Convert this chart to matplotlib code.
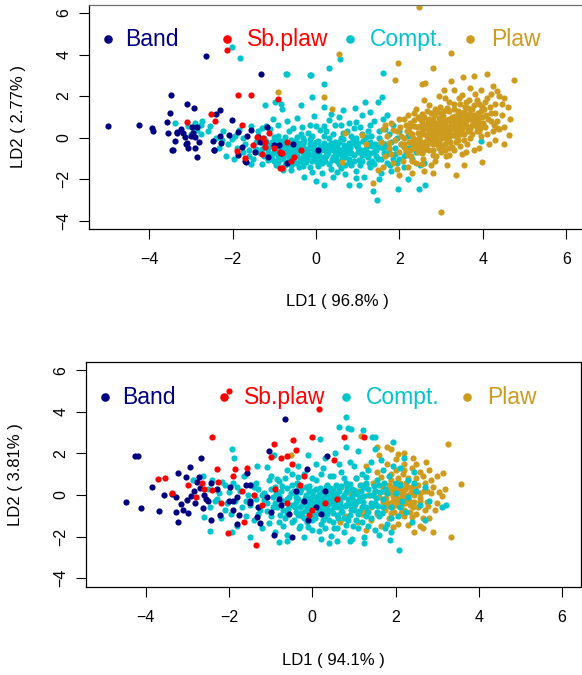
import matplotlib
matplotlib.use("Agg")
import matplotlib.pyplot as plt

plt.rcParams['font.family'] = ['Liberation Sans', 'DejaVu Sans']

labels = ["Band", "Sb.plaw", "Compt.", "Plaw"]
colors = ["#000080", "#FF0000", "#00C5CD", "#CD9B1D"]
ticks = [-4, -2, 0, 2, 4, 6]

# ---- panel 1 : LD1 (96.8%) vs LD2 (2.77%) ----
top_xlabel = "LD1 ( 96.8% )"
top_ylabel = "LD2 ( 2.77% )"

band_top = [(-5.0, 0.58), (-4.25, 0.61), (-3.94, 0.45), (-3.9, 0.31), (-3.47, 2.05),
            (-3.51, 1.17), (-3.58, 0.77), (-3.55, 0.24), (-3.45, -0.59), (-3.37, -0.14),
            (-3.33, 0.25), (-3.24, 0.42), (-3.18, 0.21), (-3.11, -0.3), (-3.08, -0.51),
            (-2.98, 0.5), (-2.94, 0.21), (-2.89, 0.02), (-2.9, -0.51), (-2.86, -0.94),
            (-3.1, 1.6), (-2.92, 1.43), (-2.41, 1.15), (-2.3, 1.35), (-2.65, 3.94),
            (-1.33, 3.05), (-2.46, -0.14), (-2.45, -0.58), (-2.02, 0.85), (-2.08, 0.13),
            (-1.88, 0.27), (-1.86, -0.83), (-1.67, -1.18), (-1.65, 0.08), (-1.4, 0.03),
            (-1.46, -0.67), (-1.18, 0.53), (-1.14, -0.91), (-2.28, -0.27), (-1.78, -0.43),
            (-2.86, 0.53), (-3.14, 0.05), (-3.44, -0.6), (-3.34, 0.26), (-3.1, -0.27),
            (-2.3, 0.07), (-2.44, -0.59), (-1.0, -0.35), (-0.85, -0.75), (-0.55, -0.3),
            (0.04, -0.58), (-0.88, -0.35), (-1.35, -0.2), (-1.55, 0.35), (-0.7, -1.2),
            (-1.7, -1.1), (-3.0, 0.1), (-2.8, -0.2)]

sbplaw_top = [(-2.14, 4.22), (-1.86, 2.05), (-1.55, 2.04), (-0.91, 1.88), (-2.53, 1.15),
              (-2.42, 0.8), (-3.09, 0.77), (-1.78, 0.61), (-1.12, 0.24), (-1.89, -0.64),
              (-1.7, -0.99), (-1.22, -0.22), (-1.26, -0.03), (-0.86, -0.7), (-0.52, -0.91),
              (-1.41, 0.05), (-1.22, -0.43), (-0.86, -1.47), (-0.82, -0.72), (-0.81, -1.46),
              (-1.0, -0.5), (-0.7, -0.2), (-1.5, -0.35), (-0.6, -1.1), (-0.35, -0.6),
              (-1.3, -0.8)]

compt_top = [(-2.01, 4.35), (-1.82, 3.85), (-0.72, 3.05), (-0.14, 3.01), (-0.7, 3.06),
             (0.3, 3.35), (-0.11, 3.03), (0.58, 3.77), (1.6, 3.1), (0.19, 2.6),
             (-1.22, 1.56), (-0.98, 1.7), (-0.84, 1.64), (-0.37, 1.56), (-0.1, 1.96),
             (0.18, 1.49), (0.64, 1.35), (0.94, 1.44), (1.18, 1.73), (1.48, 1.73),
             (1.58, 1.94), (-0.82, 1.38), (-0.05, 1.04), (-1.02, 0.88), (-0.69, 0.8),
             (-0.33, 0.53), (-3.37, 0.72), (-3.06, 0.58), (-2.95, 0.45), (-2.76, 0.61),
             (-2.74, 0.8), (-2.77, 0.19), (-2.85, 0.35), (-3.0, 0.2), (-2.22, 0.34),
             (-2.25, -0.11), (-2.32, -0.48), (-2.17, -0.86), (-1.97, -1.02), (-2.02, -0.06),
             (-1.95, 0.1), (-1.85, 0.35), (-1.75, 0.0), (-1.7, -0.3), (-1.6, -0.6),
             (-1.55, 0.55), (-1.5, -1.0), (-1.45, -0.2), (-1.4, 0.3), (-1.35, -0.75),
             (-1.3, -1.25), (-1.25, 0.0), (-1.2, -0.45), (-1.15, -1.05), (-1.1, 0.4),
             (-1.05, -0.2), (-1.0, -0.7), (-0.95, -1.3), (-0.9, 0.1), (-0.85, -0.5),
             (-0.8, -1.0), (-0.75, -0.2), (-0.7, -0.8), (-0.65, 0.3), (-0.6, -1.3),
             (-0.55, -0.4), (-0.5, -0.9), (-0.45, 0.05), (-0.4, -0.6), (-0.35, -1.1),
             (-0.3, -0.3), (-0.25, -0.8), (-0.2, 0.25), (-0.15, -1.4), (-0.1, -0.5),
             (-0.05, -1.0), (0.0, -0.2), (0.05, -0.7), (0.1, 0.35), (0.15, -1.2),
             (0.2, -0.4), (0.25, -0.9), (0.3, 0.0), (0.35, -1.5), (0.4, -0.6),
             (0.45, 0.6), (0.5, -1.1), (0.55, -0.2), (0.6, -0.8), (0.65, 0.25),
             (0.7, -1.3), (0.75, -0.5), (0.8, -1.0), (0.85, 0.1), (0.9, -0.3),
             (0.95, -1.6), (1.0, -0.7), (1.05, 0.5), (1.1, -1.1), (1.15, -0.1),
             (1.2, -0.6), (1.25, 0.3), (1.3, -1.4), (1.35, -0.4), (1.4, 0.8),
             (1.45, -0.9), (1.5, 0.0), (1.55, -1.7), (1.6, -0.5), (1.65, 0.4),
             (1.7, -1.2), (1.8, -0.2), (1.9, -0.8), (2.0, 0.3), (2.1, -1.4),
             (2.2, -0.5), (2.3, -1.0), (-1.45, -0.55), (-1.25, -0.9), (-1.1, -0.35),
             (-0.95, -0.05), (-0.9, -0.9), (-0.8, -0.35), (-0.7, -1.15), (-0.6, -0.1),
             (-0.55, -0.65), (-0.45, -1.2), (-0.4, -0.25), (-0.3, -0.95), (-0.2, -0.55),
             (-0.15, -0.05), (-0.05, -0.75), (0.05, -1.35), (0.1, -0.4), (0.2, -0.95),
             (0.25, 0.3), (0.35, -0.25), (0.45, -0.85), (0.5, -0.45), (0.6, -1.45),
             (0.65, -0.05), (0.75, -0.75), (0.85, -1.3), (0.9, 0.45), (1.0, -0.25),
             (1.1, -0.85), (1.2, 0.05), (1.3, -0.75), (1.4, -1.25), (1.5, -0.45),
             (1.6, 0.9), (1.7, -0.8), (1.85, 0.6), (1.95, -1.2), (2.05, -0.3),
             (2.2, 0.1), (2.4, -0.7), (-0.65, -0.6), (-0.35, 0.2), (0.0, 0.55),
             (0.3, 0.85), (0.55, 1.0), (0.8, 0.7), (1.1, 1.1), (-0.3, -1.35),
             (0.15, -1.7), (0.4, -1.9), (0.7, -1.75), (1.15, -1.9), (-0.6, -1.55),
             (-1.0, -1.1), (-1.2, 0.55), (-0.9, 0.6), (1.97, -2.45), (2.46, -2.47),
             (2.61, -2.29), (1.47, -3.01), (1.37, -2.55), (1.04, -2.26), (0.78, -2.27),
             (0.18, -2.29), (0.0, -2.1), (-0.29, -1.88), (3.95, -0.17), (2.9, -0.3),
             (3.2, 0.2),
             (-1.3, -0.55), (-1.2, -0.15), (-1.15, -0.7), (-1.05, -1.0), (-1.0, 0.05),
             (-0.95, -0.55), (-0.9, -1.15), (-0.85, -0.15), (-0.8, -0.7), (-0.75, -1.3),
             (-0.75, 0.05), (-0.7, -0.45), (-0.65, -0.95), (-0.6, -0.3), (-0.55, -1.05),
             (-0.5, -0.15), (-0.5, -0.6), (-0.45, -0.85), (-0.4, -1.4), (-0.35, -0.45),
             (-0.3, 0.0), (-0.25, -0.55), (-0.25, -1.15), (-0.2, -0.8), (-0.15, -0.3),
             (-0.1, -1.1), (-0.1, 0.1), (-0.05, -0.45), (0.0, -0.9), (0.05, -0.15),
             (0.1, -1.05), (0.15, -0.55), (0.2, 0.1), (0.25, -0.65), (0.3, -1.25),
             (0.3, -0.35), (0.4, -0.95), (0.4, 0.2), (0.45, -0.2), (0.5, -0.7),
             (0.55, -1.25), (0.6, 0.0), (0.65, -0.55), (0.7, -0.95), (0.75, 0.3),
             (0.8, -0.25), (0.85, -0.75), (0.9, -1.1), (0.95, 0.0), (1.0, -0.5),
             (1.05, -1.3), (1.1, 0.2), (1.15, -0.6), (1.25, -0.95), (1.3, -0.2),
             (1.35, -1.1), (1.45, -0.6), (1.5, 0.3), (1.55, -1.0), (1.65, -0.3),
             (1.75, -0.55), (1.85, -1.0), (1.95, 0.0), (2.1, -0.9), (2.3, -0.3),
             (2.5, -1.3), (-1.6, -0.9), (-1.75, -0.7), (-1.9, -0.5), (-2.1, -0.3),
             (-1.4, 0.1), (-1.3, 0.45), (-0.55, 0.45), (-0.15, 0.6), (0.2, 0.55),
             (0.6, 0.6), (0.95, 0.75), (1.3, 0.6), (1.75, 0.2), (1.7, 1.1),
             (1.3, 1.25), (0.35, 1.15), (-0.45, 0.95), (-0.8, -1.55), (-0.1, -1.65),
             (0.5, -1.65), (0.95, -1.95), (1.5, -2.0), (1.8, -1.6), (2.2, -2.0),
             (2.6, -1.2), (-1.55, -1.25), (-2.4, 0.0), (-2.6, 0.3), (-2.55, 0.55),
             (-2.9, 0.7),
             (-1.25, -0.3), (-1.15, -0.5), (-1.05, -0.8), (-0.98, -0.25), (-0.92, -0.7),
             (-0.88, -1.0), (-0.82, -0.55), (-0.78, -0.85), (-0.72, -0.6), (-0.68, -0.3),
             (-0.62, -0.8), (-0.58, -0.5), (-0.52, -1.2), (-0.48, -0.75), (-0.42, -0.45),
             (-0.38, -1.0), (-0.32, -0.7), (-0.28, -0.15), (-0.22, -1.0), (-0.18, -0.65),
             (-0.12, -0.85), (-0.08, -0.3), (-0.02, -0.6), (0.02, -1.15), (0.08, -0.85),
             (0.12, -0.6), (0.18, -0.25), (0.22, -1.1), (0.28, -0.75), (0.32, -0.5),
             (0.38, -1.05), (0.42, -0.4), (0.48, -0.95), (0.52, -0.25), (0.58, -0.6),
             (0.62, -1.0), (0.68, -0.35), (0.72, -0.75), (0.78, -1.15), (0.82, -0.5),
             (0.88, -0.1), (0.92, -0.85), (0.98, -0.4), (1.02, -1.05), (1.08, -0.6),
             (1.12, -0.15), (1.18, -0.85), (1.22, -0.4), (1.28, -1.2), (1.32, 0.1),
             (1.38, -0.7), (1.42, -0.3), (1.48, -1.0), (1.55, -0.2), (1.62, -0.75),
             (1.7, -0.45), (1.78, -1.3), (1.9, -0.5), (2.0, -1.0), (2.15, -0.7)]

plaw_top = [(2.48, 6.27), (3.24, 4.09), (0.56, 4.02), (1.97, 3.58), (2.81, 3.35),
            (1.89, 2.77), (0.18, 1.97), (0.38, 1.38), (4.76, 2.77), (4.11, 3.08),
            (3.8, 2.97), (3.53, 2.9), (3.23, 2.72), (2.54, 2.58), (2.62, 2.62),
            (3.07, 2.29), (4.33, 2.23), (4.51, 1.92), (4.62, 0.13), (4.51, 0.5),
            (4.35, 0.45), (3.97, -1.17), (2.99, -3.59), (2.81, -1.71), (3.36, -1.79),
            (1.48, -1.55), (1.36, -2.16), (2.0, -1.8), (0.62, -1.18), (1.1, 0.13),
            (0.7, 0.21), (1.2, -0.3), (-0.92, 2.2),
            (1.55, -0.2), (1.6, 0.4), (1.65, -0.9), (1.7, 0.1), (1.75, -0.5),
            (1.8, 0.7), (1.85, -1.2), (1.9, -0.1), (1.95, 0.3), (2.0, -0.7),
            (2.02, 0.5), (2.05, -0.3), (2.08, -1.1), (2.1, 0.9), (2.12, 0.0),
            (2.15, -0.6), (2.18, 0.3), (2.2, -1.4), (2.22, -0.2), (2.25, 0.7),
            (2.28, -0.9), (2.3, 0.2), (2.32, -0.5), (2.35, 1.2), (2.38, -0.1),
            (2.4, -1.2), (2.42, 0.5), (2.45, -0.7), (2.48, 0.0), (2.5, 0.9),
            (2.52, -0.4), (2.55, 0.3), (2.57, -1.0), (2.6, 0.6), (2.62, -0.2),
            (2.65, 1.3), (2.67, 0.1), (2.7, -0.6), (2.72, 0.9), (2.75, -1.3),
            (2.77, 0.4), (2.8, -0.3), (2.82, 1.1), (2.85, 0.0), (2.87, -0.9),
            (2.9, 0.7), (2.92, 0.3), (2.95, -0.5), (2.97, 1.5), (3.0, 0.2),
            (2.55, 0.8), (2.6, -0.6), (2.7, 0.3), (2.8, 0.5), (2.9, -0.1),
            (2.65, -0.1), (2.75, 0.75), (2.85, 0.35), (2.95, 0.95),
            (3.02, -0.4), (3.05, 0.8), (3.08, 1.3), (3.1, 0.1), (3.12, -0.9),
            (3.15, 0.5), (3.18, 1.7), (3.2, 0.3), (3.22, -0.2), (3.25, 1.0),
            (3.28, 0.6), (3.3, -0.6), (3.32, 1.4), (3.35, 0.2), (3.38, 0.8),
            (3.4, -0.1), (3.42, 1.9), (3.45, 0.5), (3.48, 1.2), (3.5, -0.8),
            (3.1, 0.65), (3.2, 0.9), (3.3, 0.4), (3.4, 1.05), (3.15, -0.1),
            (3.52, 0.9), (3.55, 0.2), (3.58, 1.5), (3.6, 0.6), (3.62, -0.3),
            (3.65, 1.1), (3.68, 1.8), (3.7, 0.4), (3.72, 0.9), (3.75, 1.4),
            (3.78, -0.6), (3.8, 0.8), (3.82, 2.1), (3.85, 0.3), (3.88, 1.2),
            (3.9, 0.7), (3.92, 1.6), (3.95, 0.1), (3.98, 1.0),
            (4.02, 1.4), (4.05, 0.5), (4.1, 1.9), (4.12, 0.9), (4.15, -0.3),
            (4.2, 1.2), (4.25, 0.3), (4.3, 1.6), (4.35, 0.8), (4.4, 2.0),
            (4.45, 1.1), (4.5, -0.3), (1.6, -1.4), (1.95, -1.5), (2.3, -1.7),
            (2.6, -1.6), (3.15, -1.3), (3.55, -1.3), (3.7, 2.4), (3.3, 2.3),
            (2.95, 2.0), (2.6, 1.8), (3.95, 2.3), (4.25, 2.5), (4.6, 1.5),
            (4.65, 0.9), (4.3, -0.1),
            (2.05, 0.1), (2.1, -0.45), (2.15, 0.6), (2.2, -0.85), (2.25, 0.25),
            (2.3, -0.25), (2.35, 0.55), (2.4, -0.45), (2.45, 0.25), (2.5, -0.15),
            (2.5, 0.55), (2.55, -0.75), (2.6, 0.2), (2.6, 1.0), (2.65, 0.45),
            (2.7, -0.25), (2.7, 0.65), (2.75, 0.05), (2.75, 1.2), (2.8, -0.6),
            (2.8, 0.85), (2.85, 0.6), (2.9, 0.15), (2.9, 1.25), (2.95, -0.2),
            (2.95, 0.5), (3.0, 0.75), (3.0, -0.7), (3.05, 0.35), (3.05, 1.05),
            (3.1, -0.3), (3.1, 0.45), (3.15, 0.85), (3.2, 0.05), (3.2, 1.3),
            (3.25, 0.4), (3.25, -0.45), (3.3, 0.75), (3.3, 1.6), (3.35, 0.5),
            (3.35, -0.2), (3.4, 1.3), (3.4, 0.3), (3.45, 0.8), (3.45, -0.4),
            (3.5, 1.0), (3.5, 0.4), (3.55, 1.25), (3.55, -0.1), (3.6, 0.85),
            (3.6, 1.7), (3.65, 0.3), (3.7, 1.2), (3.7, 0.0), (3.75, 0.6),
            (3.8, 1.55), (3.85, 1.0), (3.9, 0.3), (3.95, 1.3), (4.0, 0.7),
            (4.05, 1.7), (4.1, 0.2), (4.2, 0.8), (4.3, 1.2), (2.0, 0.9),
            (1.85, 0.35), (1.75, -0.25), (1.65, 0.6), (1.8, -0.8), (2.3, -1.1),
            (2.55, -1.25), (2.85, -1.1), (3.2, -0.85), (3.6, -0.7), (3.9, -0.5),
            (4.4, 0.4), (4.45, 1.6), (4.2, 2.1), (3.5, 2.05), (3.1, 1.9),
            (2.7, 1.55), (2.4, 1.4), (2.2, 1.1),
            (2.12, -0.3), (2.22, 0.45), (2.32, 0.0), (2.42, -0.25), (2.52, 0.2),
            (2.58, 0.45), (2.63, -0.4), (2.68, 0.8), (2.73, 0.15), (2.78, -0.1),
            (2.83, 0.25), (2.88, 0.5), (2.93, -0.35), (2.98, 0.6), (3.03, 0.0),
            (3.08, 0.55), (3.13, 0.25), (3.18, -0.5), (3.23, 0.65), (3.28, 0.15),
            (3.33, 1.05), (3.38, 0.0), (3.43, 0.6), (3.48, 0.2), (3.53, 0.7),
            (3.58, 1.05), (3.63, 0.5), (3.68, 0.9), (3.73, 0.2), (3.78, 1.1),
            (3.83, 0.55), (3.88, 0.85), (3.93, 0.45), (3.98, 1.5), (4.08, 1.1),
            (4.18, 1.5), (4.28, 0.6), (2.35, 0.85), (2.45, 1.0), (2.55, 1.15),
            (2.85, 1.4), (3.0, 1.2), (3.15, 1.45), (3.45, 1.6), (3.65, 1.45),
            (3.85, 1.8), (2.25, -0.6), (2.5, -0.5), (2.8, -0.85), (3.1, -0.6)]

# ---- panel 2 : LD1 (94.1%) vs LD2 (3.81%) ----
bot_xlabel = "LD1 ( 94.1% )"
bot_ylabel = "LD2 ( 3.81% )"

band_bot = [(-4.49, -0.32), (-4.26, 1.88), (-4.18, 1.89), (-4.12, -0.64), (-3.85, 0.4),
            (-3.56, 0.02), (-3.69, -0.77), (-3.37, 0.05), (-3.28, -0.11), (-3.24, 1.04),
            (-3.28, -0.82), (-3.22, -1.3), (-3.11, -0.72), (-3.02, -0.24), (-3.04, 0.85),
            (-2.98, -0.88), (-2.94, 1.36), (-2.92, -0.03), (-2.85, 0.2), (-2.82, -0.4),
            (-2.78, 0.61), (-2.72, 0.88), (-2.68, 1.76), (-2.62, -0.64), (-2.55, -0.2),
            (-2.43, 0.56), (-2.43, -1.2), (-2.22, -0.95), (-1.98, 0.4), (-1.9, -0.3),
            (-1.76, -0.95), (-1.81, -1.41), (-1.58, 1.07), (-1.5, 0.5), (-1.5, -0.4),
            (-1.34, -1.04), (-1.26, -1.36), (-1.03, 2.13), (-0.92, -1.92), (-0.65, 3.65),
            (-0.8, -0.2), (-0.13, 1.24), (0.35, 1.86), (-0.48, -2.0), (-1.5, -0.3),
            (-1.3, -0.6), (-1.1, -0.1), (-1.0, -0.8), (-0.75, -0.5), (-0.55, -0.9),
            (-0.4, 0.2), (-0.2, -0.3), (-0.1, -1.2), (0.1, -0.6), (0.3, 0.2),
            (0.2, -0.9), (-1.8, -0.1), (-1.6, 0.5), (-1.9, -0.7), (-2.0, -0.3),
            (-2.3, 0.3), (-2.5, -0.3), (-2.6, 0.0), (-3.15, -0.45), (-2.7, 0.35)]

sbplaw_bot = [(-2.01, 4.99), (-2.4, 2.8), (-3.72, 0.78), (-3.55, 0.8), (-3.38, 0.08),
              (-2.99, 0.47), (-2.79, -0.08), (-2.66, 0.56), (-2.3, 1.25), (-2.27, 0.61),
              (-2.4, 0.24), (-1.85, 1.27), (-1.58, 1.3), (-2.03, -1.84), (-1.63, -1.28),
              (-1.35, -2.42), (-0.91, 2.44), (-1.0, 1.81), (-0.76, 1.78), (-0.46, 2.64),
              (-0.39, 2.16), (-0.62, 1.89), (0.17, 4.15), (0.0, 2.79), (0.76, 2.77),
              (1.24, 2.77), (0.53, 1.68), (-0.19, 0.91), (-0.09, -0.95), (-2.2, -0.4),
              (-1.7, 0.2), (-1.4, 0.0), (-1.2, -0.5), (-0.9, 0.3), (-0.6, -0.4),
              (-0.3, 0.5), (0.0, -0.7), (0.3, -0.4), (0.6, -0.2), (-1.9, 0.9),
              (-2.6, 0.3), (-0.5, 1.5)]

compt_bot = [(0.81, 3.75), (0.63, 3.28), (0.92, 3.17), (0.85, 3.2), (1.23, 3.11),
             (1.43, 2.8), (1.5, 2.8), (0.19, 2.71), (1.93, 2.56), (2.09, -2.66),
             (1.87, -2.16), (3.11, -0.56), (3.21, -0.48), (-1.93, 2.23), (-1.88, 1.79),
             (-2.47, -1.73), (-2.6, -1.07), (-1.5, -2.03), (-1.92, -1.79), (-2.87, 0.71),
             (-2.62, 0.91), (-2.17, 0.64), (-0.8, -2.26), (-0.6, -2.23), (-1.34, 1.39),
             (-1.1, 1.36), (-0.91, 1.92),
             (-2.5, 0.3), (-2.45, -0.6), (-2.4, 0.7), (-2.3, -0.2), (-2.25, 0.1),
             (-2.2, -1.1), (-2.1, 0.5), (-2.05, -0.4), (-2.0, 0.15), (-1.95, -0.9),
             (-1.9, 0.6), (-1.85, -0.3), (-1.8, -1.5), (-1.75, 0.2), (-1.7, -0.6),
             (-1.65, 0.9), (-1.6, -1.0), (-1.55, 0.0), (-1.5, -0.5),
             (-1.45, 0.5), (-1.4, -1.2), (-1.35, -0.2), (-1.3, 0.3), (-1.25, -0.7),
             (-1.2, -1.6), (-1.15, 0.1), (-1.1, -0.4), (-1.05, 0.7), (-1.0, -1.0),
             (-0.95, -0.1), (-0.9, 0.4), (-0.85, -0.6), (-0.8, -1.3), (-0.75, 0.2),
             (-0.7, -0.3), (-0.65, 0.8), (-0.6, -0.9), (-0.55, -0.1), (-0.5, 0.5),
             (-1.3, -0.9), (-1.0, 0.9), (-0.8, 0.65), (-0.6, 1.2), (-0.9, -1.8),
             (-0.7, -1.5),
             (-0.48, -0.5), (-0.45, -1.2), (-0.42, 0.1), (-0.4, -0.8), (-0.37, 0.6),
             (-0.35, -0.2), (-0.32, -1.6), (-0.3, -0.6), (-0.27, 0.3), (-0.25, -1.0),
             (-0.22, -0.35), (-0.2, 1.0), (-0.17, -0.75), (-0.15, 0.0), (-0.12, -1.3),
             (-0.1, -0.45), (-0.07, 0.45), (-0.05, -0.9), (-0.02, -0.15), (0.0, -1.7),
             (0.02, 0.2), (0.05, -0.6), (0.07, -1.1), (0.1, 0.7), (0.12, -0.3),
             (0.15, -0.8), (0.17, 0.05), (0.2, -1.4), (0.22, -0.5), (0.25, 1.3),
             (0.27, -0.1), (0.3, -1.0), (0.32, 0.4), (0.35, -0.65), (0.37, -0.2),
             (0.4, -1.2), (0.42, 0.9), (0.45, -0.4), (0.47, 0.15), (0.5, -0.85),
             (0.52, -1.6), (0.55, -0.1), (0.57, 0.5), (0.6, -0.6), (0.62, -1.1),
             (0.65, 0.2), (0.67, -0.35), (0.7, 1.1), (0.72, -0.8), (0.75, -1.8),
             (0.77, 0.0), (0.8, -0.5), (0.82, 0.6), (0.85, -1.2), (0.87, -0.2),
             (0.9, 1.6), (0.92, -0.7), (0.95, 0.3), (0.97, -1.5), (1.0, -0.3),
             (1.05, 0.8), (1.1, -0.9), (1.15, -0.1), (1.2, -1.3), (1.25, 0.4),
             (1.3, -0.6), (1.35, 1.2), (1.4, -1.1), (1.45, 0.0), (1.5, -0.4),
             (1.55, 0.7), (1.6, -1.0), (1.65, 1.7), (1.7, -0.2), (1.75, 0.3),
             (1.8, -1.4), (1.85, 0.9), (1.9, -0.6), (1.95, 1.4), (2.0, 0.1),
             (2.05, -1.0), (2.1, 0.5), (2.15, -0.3), (2.2, 1.8), (2.25, -0.8),
             (2.3, 0.7), (2.4, -1.3), (2.5, 0.2), (2.6, -0.5), (2.7, -1.2),
             (0.3, 1.8), (0.55, 2.0), (0.1, 1.5), (-0.1, 1.9), (0.8, 2.3),
             (1.1, 2.1), (1.5, 2.2), (0.45, -1.95), (0.9, -2.2), (1.25, -2.0),
             (0.2, -2.1), (-0.2, -2.0), (1.6, -1.9), (1.0, 1.4), (1.4, 1.6),
             (-0.35, 1.4), (0.65, 1.5), (0.15, -1.75), (1.75, -1.6),
             (-0.8, -0.05), (-0.7, -0.7), (-0.65, -1.1), (-0.6, 0.35), (-0.55, -0.5),
             (-0.5, -1.3), (-0.45, 0.2), (-0.4, -0.35), (-0.35, -0.95), (-0.3, 0.15),
             (-0.25, -0.5), (-0.2, -1.1), (-0.15, 0.4), (-0.1, -0.15), (-0.05, -0.65),
             (0.0, 0.1), (0.0, -1.2), (0.05, -0.4), (0.1, 0.3), (0.1, -0.9),
             (0.15, -0.2), (0.2, -0.65), (0.25, 0.2), (0.25, -1.2), (0.3, -0.5),
             (0.35, 0.5), (0.35, -0.9), (0.4, -0.1), (0.45, -0.7), (0.5, 0.3),
             (0.5, -1.3), (0.55, -0.45), (0.6, 0.1), (0.6, -0.95), (0.65, -0.15),
             (0.7, 0.45), (0.7, -0.6), (0.75, -1.1), (0.8, 0.15), (0.85, -0.45),
             (0.9, -0.95), (0.9, 0.55), (0.95, -0.1), (1.0, -0.7), (1.0, 0.25),
             (1.05, -1.2), (1.1, -0.3), (1.15, 0.5), (1.2, -0.6), (1.25, -0.05),
             (1.3, -1.0), (1.35, 0.3), (1.4, -0.4), (1.5, 0.2), (1.55, -0.8),
             (1.6, 0.5), (1.7, -0.6), (1.8, 0.1), (1.9, -1.1), (2.0, 0.6),
             (2.1, -0.6), (2.3, -0.1), (2.45, 0.6), (-0.9, -0.4), (-1.0, 0.3),
             (-1.1, -0.75), (-1.2, 0.0), (-1.4, 0.4), (-1.6, -0.3), (-1.8, 0.4),
             (-2.1, -0.7), (-2.35, -0.3), (-0.3, -1.5), (0.3, -1.6), (0.8, -1.45),
             (1.35, -1.5), (1.9, -1.8), (-0.5, 1.0), (0.0, 0.8), (0.5, 0.9),
             (1.2, 1.0), (1.7, 1.2), (2.1, 1.3), (2.45, 1.1), (2.7, 0.4),
             (2.8, -0.3), (-0.6, -1.9), (0.6, -2.2), (1.5, -1.7),
             (-0.95, -0.6), (-0.88, 0.1), (-0.78, -0.95), (-0.72, 0.45), (-0.62, -0.2),
             (-0.58, -0.65), (-0.52, 0.1), (-0.42, -0.6), (-0.38, -0.1), (-0.32, 0.45),
             (-0.28, -0.85), (-0.18, -0.15), (-0.12, -0.6), (-0.08, 0.2), (-0.02, -0.4),
             (0.03, -0.95), (0.08, -0.1), (0.13, -0.55), (0.18, 0.35), (0.23, -0.3),
             (0.28, -0.8), (0.33, 0.05), (0.38, -0.45), (0.43, 0.35), (0.48, -0.15),
             (0.53, -0.6), (0.58, -0.3), (0.63, 0.35), (0.68, -0.8), (0.73, -0.1),
             (0.78, -0.55), (0.83, 0.35), (0.88, -0.25), (0.93, -0.55), (0.98, 0.1),
             (1.03, -0.45), (1.08, 0.05), (1.13, -0.75), (1.18, 0.2), (1.23, -0.35),
             (1.28, 0.6), (1.33, -0.8), (1.38, 0.0), (1.43, -0.55), (1.48, 0.45),
             (1.53, -0.15), (1.58, -0.55), (1.63, 0.15), (1.68, -0.85), (1.73, 0.6),
             (-1.35, 0.6), (-1.15, -0.25), (-0.85, 0.75), (-0.35, 0.85), (0.2, 1.0),
             (0.75, 0.8), (1.3, 0.85), (-1.05, -1.35), (-0.1, -1.55), (0.6, -1.6),
             (1.1, -1.6), (0.95, -2.1), (0.4, -2.3), (1.25, -2.3)]

plaw_bot = [(3.27, 2.44), (3.57, 0.51), (3.33, -2.0), (2.89, -1.78), (3.11, -0.05),
            (3.13, 1.04), (2.85, 0.72), (2.73, 1.6), (2.43, 1.79), (1.16, 2.85),
            (1.55, 2.32), (1.79, 2.32), (1.9, 2.2), (2.05, 1.95), (2.44, -1.76),
            (2.67, -1.6), (0.67, -1.28), (0.43, 0.08), (0.4, -0.1), (-0.52, 1.92),
            (-0.34, 0.48),
            (0.55, -0.5), (0.7, 0.4), (0.8, -1.0), (0.9, 0.1), (1.0, -0.6),
            (1.05, 0.8), (1.1, -1.3), (1.15, -0.2), (1.2, 0.5), (1.25, -0.8),
            (1.3, 1.4), (1.35, 0.0), (1.4, -1.2), (1.45, 0.6), (1.5, -0.5),
            (1.55, 1.1), (1.6, -0.1), (1.65, -1.5), (1.7, 0.4), (1.75, -0.7),
            (1.8, 1.5), (1.82, 0.1), (1.85, -1.1), (1.88, 0.7), (1.9, -0.4),
            (1.93, -0.05), (1.95, 0.35), (1.97, -0.8), (2.0, 1.2), (2.02, 0.2),
            (2.05, -0.3), (2.07, -1.4), (2.1, 0.6), (2.12, -0.6), (2.15, 0.0),
            (2.17, 1.0), (2.2, -1.0), (2.22, 0.3), (2.25, -0.2), (2.3, 0.8),
            (2.35, -0.5), (2.4, 1.3), (2.45, 0.0), (2.5, -0.9), (2.55, 0.5),
            (2.6, -0.3), (2.65, 0.9), (2.7, -0.7), (2.75, 0.2), (2.8, -1.1),
            (2.9, 0.4), (3.0, -0.4), (3.05, 0.15), (1.95, -1.55), (2.3, -1.45),
            (1.6, 1.9), (2.0, 1.75), (2.2, 2.0), (1.3, -1.7), (1.85, 0.3),
            (1.95, -0.3), (2.05, 0.45), (2.15, -0.45), (2.1, 0.15), (2.0, -0.1),
            (1.7, -0.35), (1.75, 0.15), (1.8, -0.55), (1.85, 0.5), (1.9, -0.85),
            (1.95, 0.1), (2.0, -0.5), (2.05, 0.8), (2.1, -0.2), (2.15, 0.35),
            (2.2, -0.7), (2.25, 0.6), (2.3, 0.0), (2.35, -0.8), (2.4, 0.4),
            (2.45, -0.35), (2.5, 0.8), (2.55, -0.6), (2.6, 0.1), (2.65, -1.1),
            (2.7, 0.6), (2.75, -0.35), (2.85, 0.1), (2.95, -0.7), (2.5, 1.5),
            (2.2, 1.5), (1.5, 0.2), (1.4, -0.6), (1.3, 0.5), (1.2, -0.9),
            (1.1, 0.2), (0.95, -0.25), (2.6, -1.5), (3.0, 0.9), (3.2, 0.3),
            (2.8, 1.2),
            (1.78, -0.15), (1.83, -0.4), (1.88, 0.15), (1.92, -0.6), (1.98, 0.55),
            (2.03, -0.2), (2.08, 0.3), (2.13, -0.85), (2.18, 0.1), (2.23, -0.4),
            (2.28, 0.4), (2.33, -0.25), (2.38, 0.15), (2.43, -0.6), (2.48, 0.3),
            (2.58, -0.15), (2.68, 0.2), (2.78, -0.55), (1.65, 0.85), (1.9, 1.0),
            (2.2, 1.2), (2.6, 1.1), (1.55, -0.9), (2.4, -1.05)]

top_groups = [band_top, sbplaw_top, compt_top, plaw_top]
bot_groups = [band_bot, sbplaw_bot, compt_bot, plaw_bot]

fig = plt.figure(figsize=(5.82, 6.75), dpi=100)
ax1 = fig.add_axes([89 / 582, 1 - 229 / 675, 496 / 582, 224 / 675])
ax2 = fig.add_axes([86 / 582, 1 - 587 / 675, 495 / 582, 225 / 675])


def draw_panel(ax, groups, order, xlabel, ylabel, xlim, ylim, leg_y):
    for i in order:
        xs = [p[0] for p in groups[i]]
        ys = [p[1] for p in groups[i]]
        ax.scatter(xs, ys, s=20, color=colors[i], linewidths=0, zorder=2)
    ax.set_xlim(*xlim)
    ax.set_ylim(*ylim)
    ax.set_xticks(ticks)
    ax.set_yticks(ticks)
    ax.set_xticklabels([str(t).replace('-', '\u2212') for t in ticks])
    ax.set_yticklabels([str(t).replace('-', '\u2212') for t in ticks],
                       rotation=90, va='center')
    ax.tick_params(axis='both', direction='out', length=7.5, width=0.8,
                   labelsize=11.5, color='black')
    ax.tick_params(axis='x', pad=9)
    ax.tick_params(axis='y', pad=5)
    for sp in ax.spines.values():
        sp.set_linewidth(0.9)
    ax.set_xlabel(xlabel, fontsize=12)
    ax.set_ylabel(ylabel, fontsize=12)
    ax.xaxis.set_label_coords(0.5, -0.325)
    ax.xaxis.label.set_va('center')
    ax.yaxis.set_label_coords(-0.143, 0.5)
    ax.yaxis.label.set_va('center')

    # legend row (horizontal, no frame)
    mk_x = [0.038, 0.278, 0.526, 0.769]
    tx_x = [0.073, 0.319, 0.566, 0.811]
    for i in range(4):
        ax.scatter([mk_x[i]], [leg_y], s=38, color=colors[i], linewidths=0,
                   transform=ax.transAxes, zorder=3, clip_on=False)
        ax.text(tx_x[i], leg_y, labels[i], color=colors[i], fontsize=16.5,
                ha='left', va='center', transform=ax.transAxes, zorder=3)


# top: Compt under Plaw; bottom: Plaw under Compt; Band / Sb.plaw on top
draw_panel(ax1, top_groups, [2, 3, 0, 1], top_xlabel, top_ylabel,
           (-5.444, 6.451), (-4.389, 6.380), 0.846)
draw_panel(ax2, bot_groups, [3, 2, 0, 1], bot_xlabel, bot_ylabel,
           (-5.440, 6.459), (-4.423, 6.394), 0.843)

ax1.spines['top'].set_color('#707070')

fig.savefig("out.png", dpi=100)
